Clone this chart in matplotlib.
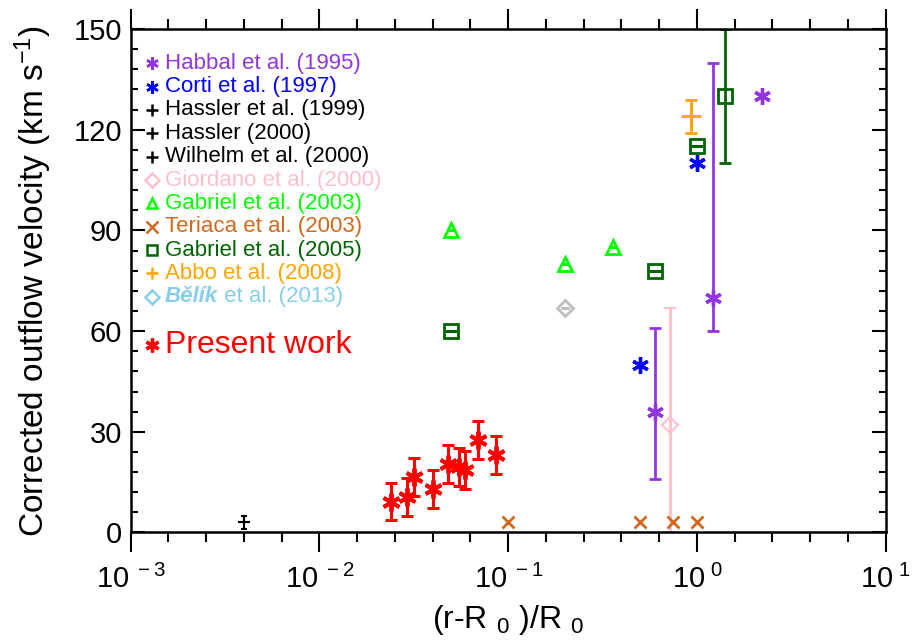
import numpy as np
import matplotlib.pyplot as plt
import matplotlib.transforms as mtransforms
from matplotlib.ticker import FixedLocator, MultipleLocator, FuncFormatter, NullFormatter

plt.rcParams['font.family'] = ['Liberation Sans', 'DejaVu Sans']
plt.rcParams['mathtext.fontset'] = 'custom'
plt.rcParams['mathtext.rm'] = 'Liberation Sans'
plt.rcParams['mathtext.it'] = 'Liberation Sans:italic'
plt.rcParams['mathtext.bf'] = 'Liberation Sans:bold'
plt.rcParams['mathtext.default'] = 'regular'

# present work
pw_x = [0.0238, 0.029, 0.0318, 0.0398, 0.048, 0.0551, 0.0593, 0.0689, 0.0862]
pw_v = [9.2, 10.5, 16.6, 12.9, 20.3, 19.4, 18.6, 27.6, 23.1]
pw_err = [5.6, 5.6, 5.6, 5.7, 5.7, 5.7, 5.7, 5.6, 5.6]

# literature values
habbal_x = [0.6, 1.21, 2.22]
habbal_v = [36, 70, 130]
habbal_lo = [20, 10]
habbal_hi = [25, 70]

corti_x = [0.5, 1.0]
corti_v = [50, 110]

hassler_x = [0.004]
hassler_v = [3]
hassler_err = [2]

giordano_x = [0.72]
giordano_v = [32]
giordano_lo = [32]
giordano_hi = [35]

gab03_x = [0.05, 0.2, 0.36]
gab03_v = [90, 80, 85]

teriaca_x = [0.1, 0.5, 0.75, 1.0]
teriaca_v = [3, 3, 3, 3]

gab05_x = [0.05, 0.6, 1.0, 1.41]
gab05_v = [60, 78, 115, 130]
gab05_err = [0, 0, 0, 20]

abbo_x = [0.93]
abbo_v = [124]
abbo_err = [5]

belik_x = [0.2]
belik_v = [67]
belik_err = [0]

c_habbal = '#9035E0'
c_corti = '#0000FF'
c_giordano = '#FFC0CB'
c_gab03 = '#00FF00'
c_teriaca = '#D2691E'
c_gab05 = '#006400'
c_abbo = '#FFA500'
c_belik = '#87CEEB'
ast = (6, 2, 0)

fig = plt.figure(figsize=(9.14, 6.42), dpi=100)
ax = fig.add_axes([0.143, 0.1706, 0.826, 0.7842])

ax.errorbar(hassler_x, hassler_v, yerr=hassler_err, fmt='+', color='k', ms=8, mew=1.5,
            elinewidth=1.5, capsize=2.5, capthick=1.5)
ax.errorbar(giordano_x, giordano_v, yerr=[giordano_lo, giordano_hi], fmt='D', color=c_giordano,
            mfc='none', ms=8, mew=1.5, elinewidth=2, capsize=4, capthick=2)
ax.errorbar(habbal_x[:2], habbal_v[:2], yerr=[habbal_lo, habbal_hi], fmt='none', ecolor=c_habbal,
            elinewidth=2, capsize=4, capthick=2)
ax.plot(habbal_x, habbal_v, ls='none', marker=ast, color=c_habbal, ms=12, mew=2.4)
ax.plot(corti_x, corti_v, ls='none', marker=ast, color=c_corti, ms=12, mew=2.4)
ax.errorbar(gab03_x, gab03_v, yerr=[0, 0, 0], fmt='^', color=c_gab03, mfc='none', ms=10, mew=2,
            elinewidth=2, capsize=3, capthick=2)
ax.plot(teriaca_x, teriaca_v, ls='none', marker='x', color=c_teriaca, ms=9, mew=2)
ax.errorbar(gab05_x, gab05_v, yerr=gab05_err, fmt='s', color=c_gab05, mfc='none', ms=10, mew=2,
            elinewidth=2, capsize=4, capthick=2)
ax.errorbar(abbo_x, abbo_v, yerr=abbo_err, fmt='+', color=c_abbo, ms=14, mew=2,
            elinewidth=2, capsize=4, capthick=2)
ax.errorbar(belik_x, belik_v, yerr=belik_err, fmt='D', color='#BEBEBE', mfc='none', ms=8, mew=2,
            elinewidth=2, capsize=3, capthick=2)
ax.errorbar(pw_x, pw_v, yerr=pw_err, fmt='none', ecolor='red', elinewidth=2.2, capsize=4, capthick=2.2)
ax.plot(pw_x, pw_v, ls='none', marker=ast, color='red', ms=13, mew=2.8)

# legend drawn by hand, IDL style
legend_rows = [
    ("Habbal et al. (1995)", c_habbal, ast),
    ("Corti et al. (1997)", c_corti, ast),
    ("Hassler et al. (1999)", 'k', '+'),
    ("Hassler (2000)", 'k', '+'),
    ("Wilhelm et al. (2000)", 'k', '+'),
    ("Giordano et al. (2000)", c_giordano, 'D'),
    ("Gabriel et al. (2003)", c_gab03, '^'),
    ("Teriaca et al. (2003)", c_teriaca, 'x'),
    ("Gabriel et al. (2005)", c_gab05, 's'),
    ("Abbo et al. (2008)", c_abbo, '+'),
    (None, c_belik, 'D'),
]
for i, (lab, col, mk) in enumerate(legend_rows):
    yy = 0.932 - 0.0464 * i
    ms = 7 if mk in ('D', '^', 's') else 9
    ax.plot([0.028], [yy], marker=mk, color=col, mfc='none', ms=ms, mew=1.8,
            transform=ax.transAxes, clip_on=False)
    if lab is None:
        t = ax.text(0.045, yy, "Bělík", color=col, fontsize=16, fontweight='bold',
                    style='italic', va='center', transform=ax.transAxes)
        ax.annotate(" et al. (2013)", xy=(1, 0), xycoords=t, va='bottom', color=col, fontsize=16)
    else:
        ax.text(0.045, yy, lab, color=col, fontsize=16, va='center', transform=ax.transAxes)

ax.plot([0.028], [0.372], marker=ast, color='red', ms=10, mew=2.4, transform=ax.transAxes, clip_on=False)
ax.text(0.045, 0.372, "Present work", color='red', fontsize=23, va='center', transform=ax.transAxes)

ax.set_xscale('log')
ax.set_xlim(1e-3, 10)
ax.set_ylim(0, 150)
ax.xaxis.set_major_locator(FixedLocator([1e-3, 1e-2, 1e-1, 1e0, 1e1]))
ax.xaxis.set_minor_locator(FixedLocator([10 ** (-3 + 0.2 * k) for k in range(21) if k % 5]))
ax.xaxis.set_major_formatter(FuncFormatter(lambda v, p: r"10$^{\ %d}$" % int(round(np.log10(v)))))
ax.xaxis.set_minor_formatter(NullFormatter())
ax.yaxis.set_major_locator(MultipleLocator(30))
ax.yaxis.set_minor_locator(MultipleLocator(6))

ax.tick_params(axis='x', which='both', direction='out', top=True, bottom=True, width=1.5,
               labelsize=21, pad=9)
ax.tick_params(axis='x', which='major', length=14.4)
ax.tick_params(axis='x', which='minor', length=7.2)
ax.tick_params(axis='y', which='both', direction='in', left=True, right=True, width=1.5,
               labelsize=21, pad=6)
ax.tick_params(axis='y', which='major', length=10)
ax.tick_params(axis='y', which='minor', length=5)
for s in ax.spines.values():
    s.set_linewidth(1.8)

ax.set_xlabel(r"(r-R $_0$ )/R $_0$", fontsize=23, labelpad=6)
ax.set_ylabel(r"Corrected outflow velocity (km s$^{-1}$)", fontsize=24, labelpad=14)

# lift the "0" label a little, as IDL does
fig.canvas.draw()
lab0 = ax.yaxis.get_major_ticks()[0].label1
lab0.set_transform(lab0.get_transform() + mtransforms.ScaledTranslation(0, 8 / 72, fig.dpi_scale_trans))

fig.savefig("out.png", dpi=100)
